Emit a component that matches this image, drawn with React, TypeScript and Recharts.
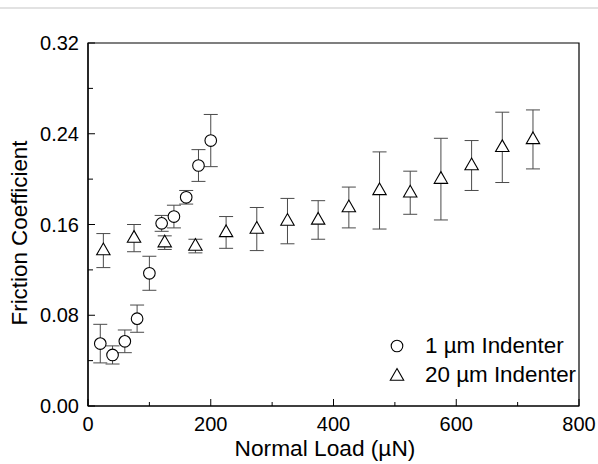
import { ScatterChart, Scatter, XAxis, YAxis, ErrorBar, ReferenceArea, Legend } from 'recharts';

const FONT = '"Liberation Sans", Arial, Helvetica, sans-serif';

// 1 µm indenter
const smallLoad = [20, 40, 60, 80, 100, 120, 140, 160, 180, 200];
const smallFriction = [0.055, 0.045, 0.057, 0.077, 0.117, 0.161, 0.167, 0.184, 0.212, 0.234];
const smallErr = [0.017, 0.008, 0.01, 0.012, 0.015, 0.007, 0.01, 0.006, 0.014, 0.023];

// 20 µm indenter
const largeLoad = [25, 75, 125, 175, 225, 275, 325, 375, 425, 475, 525, 575, 625, 675, 725];
const largeFriction = [0.137, 0.148, 0.144, 0.141, 0.153, 0.156, 0.163, 0.164, 0.175, 0.19, 0.188, 0.2, 0.212, 0.228, 0.235];
const largeErr = [0.015, 0.012, 0.006, 0.006, 0.014, 0.019, 0.02, 0.017, 0.018, 0.034, 0.019, 0.036, 0.022, 0.031, 0.026];

const loadTicks = [0, 100, 200, 300, 400, 500, 600, 700, 800];
const frictionTicks = [0, 0.04, 0.08, 0.12, 0.16, 0.2, 0.24, 0.28, 0.32];
const seriesNames = ['1 µm Indenter', '20 µm Indenter'];

const smallData = smallLoad.map((x, i) => ({ x, y: smallFriction[i], err: smallErr[i] }));
const largeData = largeLoad.map((x, i) => ({ x, y: largeFriction[i], err: largeErr[i] }));

const CircleMark = (p: any) => (
  <circle cx={p.cx} cy={p.cy} r={5.8} fill="#fff" stroke="#000" strokeWidth={1.1} />
);

const TriMark = (p: any) => {
  const { cx, cy } = p;
  return (
    <path
      d={`M${cx},${cy - 7.5}L${cx + 6.7},${cy + 4.2}L${cx - 6.7},${cy + 4.2}Z`}
      fill="#fff"
      stroke="#000"
      strokeWidth={1.1}
    />
  );
};

const XTick = (p: any) => {
  const { x, y, payload, index } = p;
  const major = index % 2 === 0;
  return (
    <g>
      <line x1={x} x2={x} y1={y} y2={y - (major ? 7 : 4)} stroke="#000" strokeWidth={1} />
      {major && (
        <text x={x} y={y + 25} textAnchor="middle" fontSize={20} fontFamily={FONT} fill="#000">
          {payload.value}
        </text>
      )}
    </g>
  );
};

const YTick = (p: any) => {
  const { x, y, payload, index } = p;
  const major = index % 2 === 0;
  return (
    <g>
      <line x1={x} x2={x + (major ? 7 : 5)} y1={y} y2={y} stroke="#000" strokeWidth={1} />
      {major && (
        <text x={x - 9} y={y + 7} textAnchor="end" fontSize={20} fontFamily={FONT} fill="#000">
          {Number(payload.value).toFixed(2)}
        </text>
      )}
    </g>
  );
};

const renderLegend = () => (
  <div style={{ fontFamily: FONT, fontSize: 22.4, color: '#000' }}>
    {seriesNames.map((name, i) => (
      <div key={name} style={{ display: 'flex', alignItems: 'center', height: 28.5 }}>
        <svg width={24} height={22}>
          {i === 0 ? <CircleMark cx={12} cy={11} /> : <TriMark cx={12} cy={12} />}
        </svg>
        <span style={{ marginLeft: 16, whiteSpace: 'nowrap' }}>{name}</span>
      </div>
    ))}
  </div>
);

export default function App() {
  return (
    <div style={{ position: 'absolute', left: 0, top: 0, width: 598, height: 464, background: '#fff' }}>
      <div style={{ position: 'absolute', left: 0, top: 7, width: 598, height: 2, background: '#e2e2e2' }} />
      <ScatterChart width={598} height={464} margin={{ top: 43, right: 19, bottom: 0, left: 0 }}>
        <XAxis
          type="number"
          dataKey="x"
          domain={[0, 800]}
          ticks={loadTicks}
          interval={0}
          height={58}
          tickSize={0}
          tickMargin={0}
          tick={<XTick />}
          axisLine={{ stroke: '#000', strokeWidth: 1.2 }}
          label={{
            content: () => (
              <text x={325} y={456} textAnchor="middle" fontSize={22.7} fontFamily={FONT} fill="#000">
                Normal Load (µN)
              </text>
            ),
          }}
        />
        <YAxis
          type="number"
          dataKey="y"
          domain={[0, 0.32]}
          ticks={frictionTicks}
          interval={0}
          width={88}
          tickSize={0}
          tickMargin={0}
          tick={<YTick />}
          axisLine={{ stroke: '#000', strokeWidth: 1.2 }}
          label={{
            content: () => (
              <text
                x={0}
                y={0}
                transform="translate(27,233) rotate(-90)"
                textAnchor="middle"
                fontSize={22.4}
                fontFamily={FONT}
                fill="#000"
              >
                Friction Coefficient
              </text>
            ),
          }}
        />
        <ReferenceArea x1={0} x2={800} y1={0} y2={0.32} fill="none" stroke="#000" strokeWidth={1.2} />
        <Legend
          layout="vertical"
          align="center"
          verticalAlign="middle"
          content={renderLegend}
          wrapperStyle={{ left: 385, top: 332, width: 200 }}
        />
        <Scatter name={seriesNames[0]} data={smallData} shape={CircleMark} isAnimationActive={false}>
          <ErrorBar dataKey="err" direction="y" width={7} stroke="#4a4a4a" strokeWidth={1} />
        </Scatter>
        <Scatter name={seriesNames[1]} data={largeData} shape={TriMark} isAnimationActive={false}>
          <ErrorBar dataKey="err" direction="y" width={7} stroke="#4a4a4a" strokeWidth={1} />
        </Scatter>
      </ScatterChart>
    </div>
  );
}
